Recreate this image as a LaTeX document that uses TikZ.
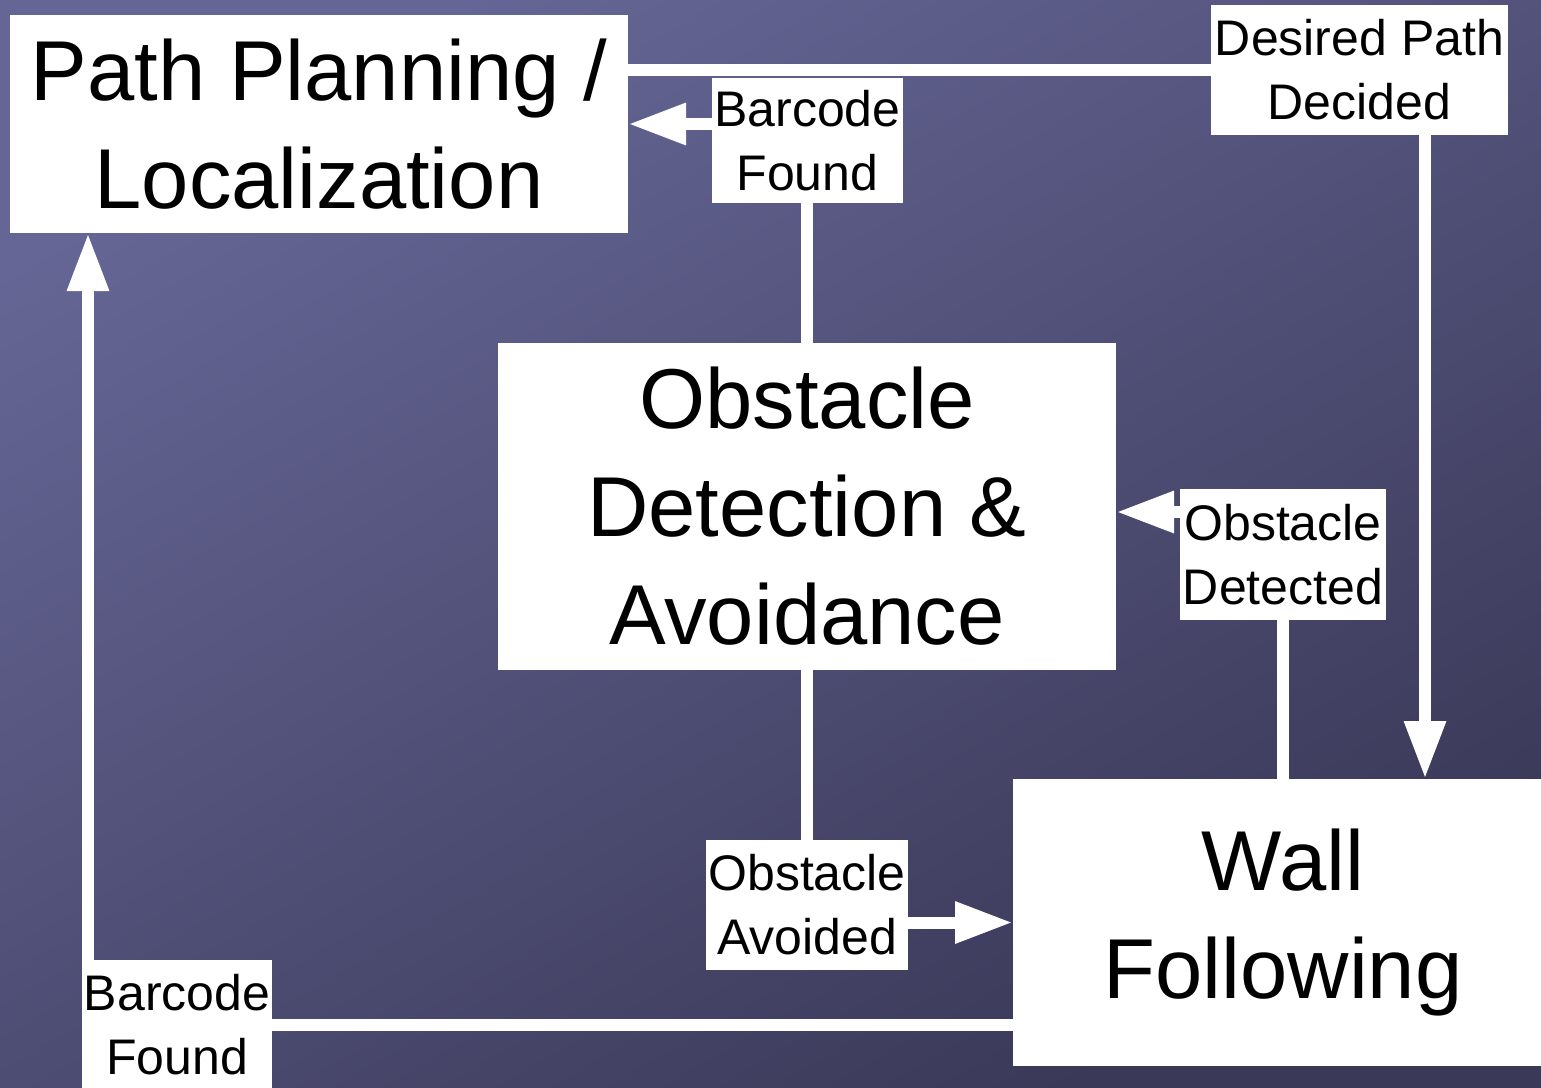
\documentclass[tikz,border=0pt]{standalone}
\usepackage{fontspec}
\setmainfont{Liberation Sans}
\usepackage{tikz}
\usetikzlibrary{arrows.meta, positioning}
\definecolor{bgtop}{RGB}{102,102,150}
\definecolor{bgbot}{RGB}{58,57,88}
\pgfdeclarelayer{bg}
\pgfdeclarelayer{wires}
\pgfsetlayers{bg,wires,main}

\begin{document}
\begin{tikzpicture}[x=1pt,y=-1pt,inner sep=0pt,outer sep=0pt,
  block/.style={fill=white,align=center,font=\fontsize{85}{108}\selectfont},
  tag/.style={fill=white,align=center,font=\fontsize{50}{64}\selectfont},
  flow/.style={draw=white,line width=12pt,-{Triangle[width=39pt,length=58pt]}}]
\useasboundingbox (0,0) rectangle (1541,1087);
\begin{pgfonlayer}{bg}
\shade[top color=bgtop,bottom color=bgbot,shading angle=30] (0,0) rectangle (1541,1087);
\end{pgfonlayer}
% main blocks
\node[block,minimum width=618pt,minimum height=218pt] (plan) at (319,124) {Path Planning /\\Localization};
\node[block,minimum width=618pt,minimum height=327pt] (obst) at (807,506.5) {Obstacle\\Detection \&\\Avoidance};
\node[block,minimum width=540pt,minimum height=287pt] (wall) at (1283,922.5) {Wall\\Following};
% transition labels
\node[tag,minimum width=297pt,minimum height=130pt] (decided) at (1359.5,70) {Desired Path\\Decided};
\node[tag,minimum width=191pt,minimum height=125pt] (found1) at (807.5,140.5) {Barcode\\Found};
\node[tag,minimum width=206pt,minimum height=131pt] (detected) at (1283,554.5) {Obstacle\\Detected};
\node[tag,minimum width=202pt,minimum height=130pt] (avoided) at (807,905) {Obstacle\\Avoided};
\node[tag,minimum width=190pt,minimum height=130pt] (found2) at (177,1025) {Barcode\\Found};
\coordinate (wallin) at (1425,779);
\coordinate (planin) at (88,233);
\coordinate (obstin) at (1116,512);
\begin{pgfonlayer}{wires}
\draw[flow] (plan.east |- decided) -| (wallin);
\draw[flow] (obst.north) |- (plan.east);
\draw[flow] (wall.north) |- (obstin);
\draw[flow] (obst.south) |- (wall.west);
\draw[flow] (wall.west |- found2) -| (planin);
\end{pgfonlayer}
\end{tikzpicture}
\end{document}
